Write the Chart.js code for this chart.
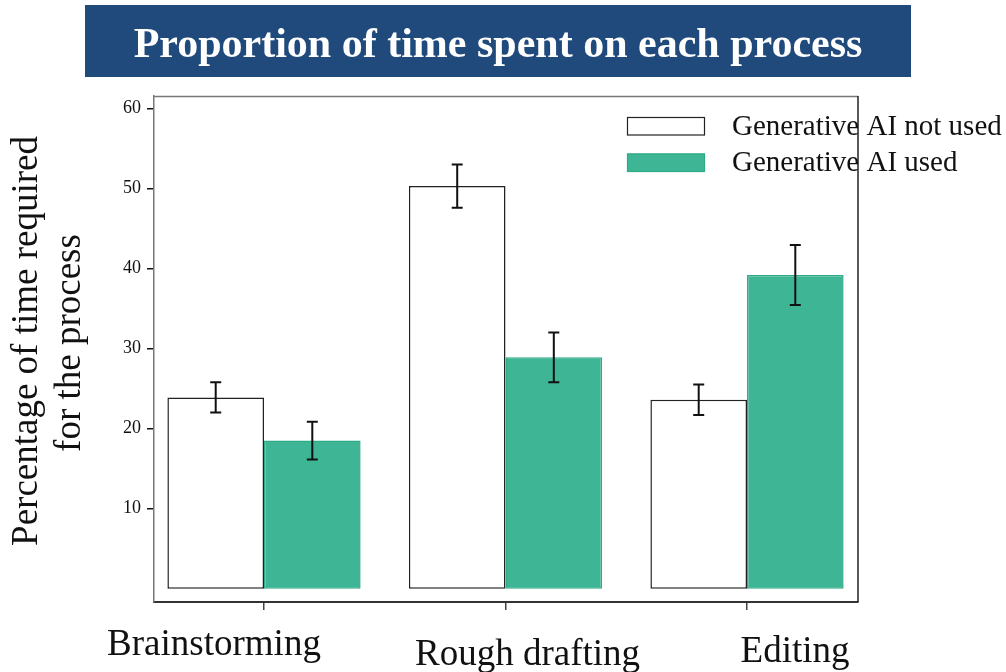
<!DOCTYPE html>
<html>
<head>
<meta charset="utf-8">
<script src="https://cdn.jsdelivr.net/npm/chart.js@4.4.0/dist/chart.umd.min.js"></script>
<style>
  html, body { margin: 0; padding: 0; background: #ffffff; }
  #wrap { width: 1006px; height: 672px; position: relative; }
  canvas { display: block; }
</style>
</head>
<body>
<div id="wrap"><canvas id="chart" width="1006" height="672"></canvas></div>
<script>
// Chart content
const chartTitle = 'Proportion of time spent on each process';
const yAxisTitle = ['Percentage of time required', 'for the process'];
const categories = ['Brainstorming', 'Rough drafting', 'Editing'];
const seriesNames = ['Generative AI not used', 'Generative AI used'];
const notUsedValues = [23.9, 50.3, 23.6];
const notUsedErrors = [1.9, 2.7, 1.9];
const usedValues = [18.5, 28.9, 39.2];
const usedErrors = [2.35, 3.1, 3.75];
const yTickValues = [10, 20, 30, 40, 50, 60];

const SERIF = '"Liberation Serif", "Times New Roman", serif';
const GREEN = '#3eb696';

const toPoints = vals => vals.map((v, i) => ({ x: i, y: v }));

// Title banner across the top
const bannerPlugin = {
  id: 'banner',
  afterDraw(chart) {
    const ctx = chart.ctx;
    ctx.save();
    ctx.fillStyle = '#214a7c';
    ctx.fillRect(85, 5, 826, 72);
    ctx.fillStyle = '#ffffff';
    ctx.font = 'bold 42px ' + SERIF;
    ctx.textAlign = 'center';
    ctx.textBaseline = 'alphabetic';
    ctx.fillText(chartTitle, 498, 57);
    ctx.restore();
  }
};

// Top and right edges of the plot frame
const framePlugin = {
  id: 'frame',
  afterDraw(chart) {
    const { ctx, chartArea: a } = chart;
    ctx.save();
    ctx.lineWidth = 1.5;
    ctx.strokeStyle = '#777777';
    ctx.beginPath();
    ctx.moveTo(a.left, a.top + 0.5);
    ctx.lineTo(a.right, a.top + 0.5);
    ctx.stroke();
    ctx.strokeStyle = '#222222';
    ctx.beginPath();
    ctx.moveTo(a.right, a.top);
    ctx.lineTo(a.right, a.bottom);
    ctx.stroke();
    ctx.restore();
  }
};

// Error bars (mean ± error) on each bar
const errorBarPlugin = {
  id: 'errorBars',
  afterDatasetsDraw(chart) {
    const ctx = chart.ctx;
    const y = chart.scales.y;
    ctx.save();
    ctx.strokeStyle = '#111111';
    ctx.lineWidth = 2;
    chart.data.datasets.forEach((ds, di) => {
      const meta = chart.getDatasetMeta(di);
      meta.data.forEach((bar, i) => {
        const v = ds.data[i].y;
        const e = ds.errors[i];
        const yTop = y.getPixelForValue(v + e);
        const yBot = y.getPixelForValue(v - e);
        const cx = bar.x;
        const cap = 5.5;
        ctx.beginPath();
        ctx.moveTo(cx, yTop); ctx.lineTo(cx, yBot);
        ctx.moveTo(cx - cap, yTop); ctx.lineTo(cx + cap, yTop);
        ctx.moveTo(cx - cap, yBot); ctx.lineTo(cx + cap, yBot);
        ctx.stroke();
      });
    });
    ctx.restore();
  }
};

// Legend box in the upper right
const legendPlugin = {
  id: 'legendBox',
  afterDraw(chart) {
    const ctx = chart.ctx;
    ctx.save();
    ctx.font = '29px ' + SERIF;
    ctx.textBaseline = 'middle';
    ctx.textAlign = 'left';
    chart.data.datasets.forEach((ds, i) => {
      const top = 117 + i * 36.5;
      ctx.fillStyle = ds.backgroundColor;
      ctx.fillRect(627, top, 78, 18.5);
      ctx.lineWidth = 1.2;
      ctx.strokeStyle = ds.borderColor;
      ctx.strokeRect(627.5, top + 0.5, 77, 17.5);
      ctx.fillStyle = '#111111';
      ctx.fillText(ds.label, 732, top + 10);
    });
    ctx.restore();
  }
};

// Category names under the x axis and the two-line y axis title
const axisTextPlugin = {
  id: 'axisText',
  afterDraw(chart) {
    const ctx = chart.ctx;
    const x = chart.scales.x;
    const shifts = [[-50, 645], [22, 655], [48, 652]];
    ctx.save();
    ctx.fillStyle = '#111111';
    ctx.font = '37px ' + SERIF;
    ctx.textAlign = 'center';
    ctx.textBaseline = 'middle';
    categories.forEach((c, i) => {
      ctx.fillText(c, x.getPixelForValue(i) + shifts[i][0], shifts[i][1]);
    });
    ctx.translate(0, 341);
    ctx.rotate(-Math.PI / 2);
    ctx.textBaseline = 'alphabetic';
    ctx.fillText(yAxisTitle[0], 0, 37);
    ctx.fillText(yAxisTitle[1], -2, 80);
    ctx.restore();
  }
};

new Chart(document.getElementById('chart'), {
  type: 'bar',
  data: {
    datasets: [
      {
        label: seriesNames[0],
        data: toPoints(notUsedValues),
        errors: notUsedErrors,
        backgroundColor: '#ffffff',
        borderColor: '#222222',
        borderWidth: 1.5,
        borderSkipped: false
      },
      {
        label: seriesNames[1],
        data: toPoints(usedValues),
        errors: usedErrors,
        backgroundColor: GREEN,
        borderColor: '#2faa86',
        borderWidth: 1.5,
        borderSkipped: false
      }
    ]
  },
  options: {
    responsive: false,
    animation: false,
    devicePixelRatio: 1,
    layout: { padding: { top: 96, right: 148, bottom: 0, left: 0 } },
    plugins: { legend: { display: false }, tooltip: { enabled: false }, title: { display: false } },
    datasets: { bar: { categoryPercentage: 0.8, barPercentage: 1.0 } },
    scales: {
      x: {
        type: 'linear',
        offset: false,
        min: -0.4555,
        max: 2.4596,
        afterBuildTicks: s => { s.ticks = categories.map((c, i) => ({ value: i })); },
        afterFit: s => { s.height = 70; },
        ticks: { display: false },
        grid: { offset: false, drawOnChartArea: false, drawTicks: true, tickLength: 8, color: '#444444', lineWidth: 1.5 },
        border: { display: true, color: '#333333', width: 2 }
      },
      y: {
        type: 'linear',
        min: -1.66,
        max: 61.55,
        afterBuildTicks: s => { s.ticks = yTickValues.map(v => ({ value: v })); },
        afterFit: s => { s.width = 154; },
        ticks: { color: '#111111', font: { family: SERIF, size: 18 }, padding: 6 },
        grid: { drawOnChartArea: false, drawTicks: true, tickLength: 7, color: '#111111', lineWidth: 1.5 },
        border: { display: true, color: '#777777', width: 1.5 }
      }
    }
  },
  plugins: [bannerPlugin, framePlugin, errorBarPlugin, legendPlugin, axisTextPlugin]
});
</script>
</body>
</html>
